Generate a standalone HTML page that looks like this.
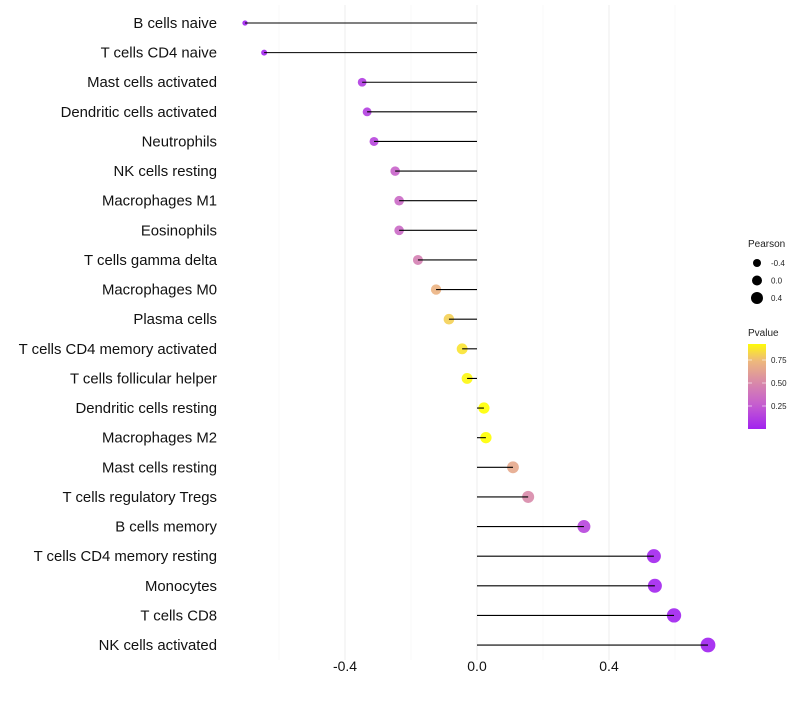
<!DOCTYPE html>
<html><head><meta charset="utf-8"><style>
body{margin:0;background:#fff;font-family:"Liberation Sans",sans-serif}
</style></head><body>
<svg id="c" width="800" height="700" xmlns="http://www.w3.org/2000/svg" font-family="Liberation Sans, sans-serif"></svg>
<script>
const cells=["B cells naive","T cells CD4 naive","Mast cells activated","Dendritic cells activated","Neutrophils","NK cells resting","Macrophages M1","Eosinophils","T cells gamma delta","Macrophages M0","Plasma cells","T cells CD4 memory activated","T cells follicular helper","Dendritic cells resting","Macrophages M2","Mast cells resting","T cells regulatory  Tregs ","B cells memory","T cells CD4 memory resting","Monocytes","T cells CD8","NK cells activated"];
const pearson=[-0.703,-0.645,-0.348,-0.333,-0.312,-0.248,-0.236,-0.236,-0.179,-0.124,-0.085,-0.045,-0.03,0.021,0.027,0.109,0.155,0.324,0.536,0.539,0.597,0.7];
const pvalue=[0.01,0.02,0.12,0.13,0.16,0.3,0.33,0.33,0.45,0.7,0.8,0.85,0.9,0.93,0.92,0.65,0.5,0.16,0.02,0.02,0.01,0.001];
const xTicks=[-0.4,0,0.4];
const xMinor=[-0.6,-0.2,0.2,0.6];
const svg=document.getElementById('c');
const NS='http://www.w3.org/2000/svg';
const x=v=>477+v*330;
const y=i=>23+i*29.62;
const rad=v=>Math.sqrt(Math.max(3,31+34*v));
const stops=[[0,[160,32,240]],[0.25,[196,90,210]],[0.5,[216,137,170]],[0.75,[240,188,120]],[0.92,[255,255,0]],[1,[255,255,0]]];
function col(p){for(let k=0;k<stops.length-1;k++){const a=stops[k],b=stops[k+1];if(p<=b[0]){const t=(p-a[0])/(b[0]-a[0]);const c=a[1].map((u,j)=>Math.round(u+(b[1][j]-u)*t));return `rgb(${c})`;}}return 'rgb(255,255,0)';}
function el(tag,attrs,txt){const e=document.createElementNS(NS,tag);for(const k in attrs)e.setAttribute(k,attrs[k]);if(txt!==undefined)e.textContent=txt;svg.appendChild(e);return e;}
xMinor.forEach(v=>{const g=el('line',{x1:x(v),x2:x(v),y1:5,y2:660,stroke:'#f3f3f3','stroke-width':0.6});

});
xTicks.forEach(v=>{const g=el('line',{x1:x(v),x2:x(v),y1:5,y2:660,stroke:'#ececec','stroke-width':1});


const t=el('text',{x:x(v),y:671,'text-anchor':'middle','font-size':14,fill:'#111'},v===0?'0.0':v.toFixed(1));

});
cells.forEach((c,i)=>{
const t=el('text',{x:217,y:y(i)+5,'text-anchor':'end','font-size':14.9,fill:'#111','xml:space':'preserve'},c);


const p=el('circle',{cx:x(pearson[i]),cy:y(i),r:rad(pearson[i]),fill:col(pvalue[i]),'fill-opacity':0.9});


const s=el('line',{x1:x(0),x2:x(pearson[i]),y1:y(i),y2:y(i),stroke:'#000','stroke-width':1.1});

});
const lt=el('text',{x:748,y:247,'font-size':10,fill:'#222'},'Pearson');


const legV=[-0.4,0,0.4];
legV.forEach((v,k)=>{const cy=263+k*17.5;
const d=el('circle',{cx:757,cy:cy,r:[4,5,6][k],fill:'#000'});


const t=el('text',{x:771,y:cy+3,'font-size':8,fill:'#222'},v===0?'0.0':v.toFixed(1));

});
const pt=el('text',{x:748,y:336,'font-size':10,fill:'#222'},'Pvalue');


const defs=el('defs',{});
const lg=document.createElementNS(NS,'linearGradient');lg.setAttribute('id','gr');lg.setAttribute('x1','0');lg.setAttribute('y1','1');lg.setAttribute('x2','0');lg.setAttribute('y2','0');
for(let p=0;p<=1.0001;p+=0.1){const s=document.createElementNS(NS,'stop');const pv=0.01+p*0.9;s.setAttribute('offset',p);s.setAttribute('stop-color',col(pv));lg.appendChild(s);}
defs.appendChild(lg);
const bar=el('rect',{x:748,y:344,width:18,height:85,fill:'url(#gr)'});


[[0.75,360],[0.5,383],[0.25,406]].forEach(([v,yy])=>{
el('line',{x1:748,x2:752,y1:yy,y2:yy,stroke:'#fff','stroke-width':0.6});
el('line',{x1:762,x2:766,y1:yy,y2:yy,stroke:'#fff','stroke-width':0.6});
const t=el('text',{x:771,y:yy+3,'font-size':8,fill:'#222'},v.toFixed(2));

});
</script>
</body></html>
